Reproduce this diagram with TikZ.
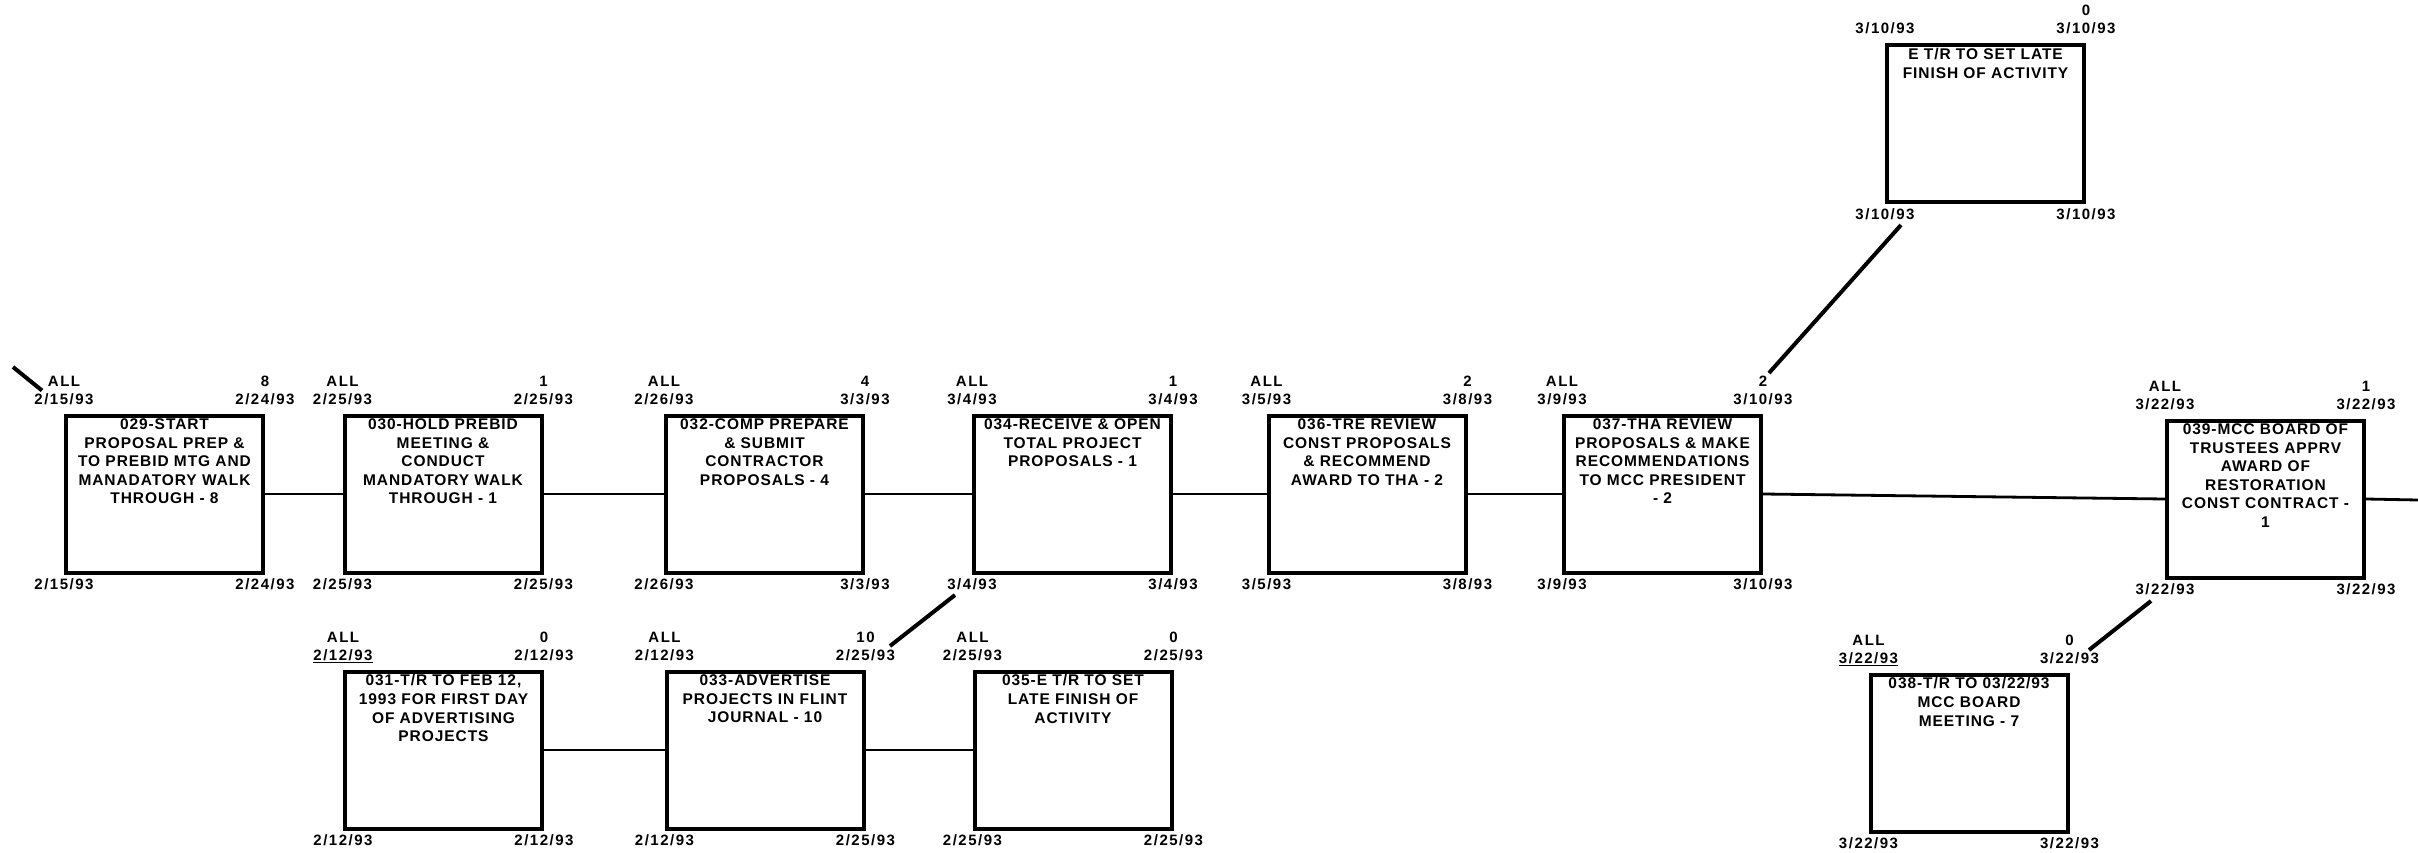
\documentclass[tikz,border=0pt]{standalone}
\usepackage{fontspec}
\setmainfont{Liberation Sans}[LetterSpace=6]
\newfontfamily\lblfont{Liberation Sans}[LetterSpace=10]
\usetikzlibrary{calc}
\tikzset{
  actbox/.style={draw, line width=4pt, minimum width=197pt, minimum height=157pt, inner sep=0pt},
  acttext/.style={anchor=north, align=center, inner sep=0pt, font=\fontsize{15.5}{18.6}\selectfont\bfseries},
  lbl/.style={anchor=base, inner sep=0pt, font=\lblfont\fontsize{15}{17}\selectfont\bfseries},
  conn/.style={line width=2.8pt},
  diag/.style={line width=4pt},
}
\newcommand\actbox[9]{%
  \node[actbox] (#1) at (#2) {};
  \node[acttext] (#1-txt) at ([yshift=-5pt]#1.north) {#3};
  \node[lbl] (#1-tla) at ([yshift=27.5pt]#1.north west) {#4};
  \node[lbl] (#1-tlb) at ([yshift=9.5pt]#1.north west) {#5};
  \node[lbl] (#1-tra) at ([yshift=27.5pt]#1.north east) {#6};
  \node[lbl] (#1-trb) at ([yshift=9.5pt]#1.north east) {#7};
  \node[lbl] (#1-bl) at ([yshift=-15pt]#1.south west) {#8};
  \node[lbl] (#1-br) at ([yshift=-15pt]#1.south east) {#9};
}
\begin{document}
\begin{tikzpicture}[x=1pt,y=-1pt]
\useasboundingbox[fill=white] (0,0) rectangle (2418,853);

\actbox{b029}{164.5,494}{029-START\\PROPOSAL PREP \&\\TO PREBID MTG AND\\MANADATORY WALK\\THROUGH - 8}{ALL}{2/15/93}{8}{2/24/93}{2/15/93}{2/24/93}
\actbox{b030}{443,494}{030-HOLD PREBID\\MEETING \&\\CONDUCT\\MANDATORY WALK\\THROUGH - 1}{ALL}{2/25/93}{1}{2/25/93}{2/25/93}{2/25/93}
\actbox{b032}{764.5,494}{032-COMP PREPARE\\\& SUBMIT\\CONTRACTOR\\PROPOSALS - 4}{ALL}{2/26/93}{4}{3/3/93}{2/26/93}{3/3/93}
\actbox{b034}{1072.5,494}{034-RECEIVE \& OPEN\\TOTAL PROJECT\\PROPOSALS - 1}{ALL}{3/4/93}{1}{3/4/93}{3/4/93}{3/4/93}
\actbox{b036}{1367,494}{036-TRE REVIEW\\CONST PROPOSALS\\\& RECOMMEND\\AWARD TO THA - 2}{ALL}{3/5/93}{2}{3/8/93}{3/5/93}{3/8/93}
\actbox{b037}{1662.5,494}{037-THA REVIEW\\PROPOSALS \& MAKE\\RECOMMENDATIONS\\TO MCC PRESIDENT\\- 2}{ALL}{3/9/93}{2}{3/10/93}{3/9/93}{3/10/93}
\actbox{b039}{2265.5,499}{039-MCC BOARD OF\\TRUSTEES APPRV\\AWARD OF\\RESTORATION\\CONST CONTRACT -\\1}{ALL}{3/22/93}{1}{3/22/93}{3/22/93}{3/22/93}
\actbox{bE}{1985.5,124}{E T/R TO SET LATE\\FINISH OF ACTIVITY}{}{3/10/93}{0}{3/10/93}{3/10/93}{3/10/93}
\actbox{b031}{443.5,750}{031-T/R TO FEB 12,\\1993 FOR FIRST DAY\\OF ADVERTISING\\PROJECTS}{ALL}{\underline{2/12/93}}{0}{2/12/93}{2/12/93}{2/12/93}
\actbox{b033}{765,750}{033-ADVERTISE\\PROJECTS IN FLINT\\JOURNAL - 10}{ALL}{2/12/93}{10}{2/25/93}{2/12/93}{2/25/93}
\actbox{b035}{1073,750}{035-E T/R TO SET\\LATE FINISH OF\\ACTIVITY}{ALL}{2/25/93}{0}{2/25/93}{2/25/93}{2/25/93}
\actbox{b038}{1969,753}{038-T/R TO 03/22/93\\MCC BOARD\\MEETING - 7}{ALL}{\underline{3/22/93}}{0}{3/22/93}{3/22/93}{3/22/93}

% horizontal connectors
\draw[conn] (b029.east) -- (b030.west);
\draw[conn] (b030.east) -- (b032.west);
\draw[conn] (b032.east) -- (b034.west);
\draw[conn] (b034.east) -- (b036.west);
\draw[conn] (b036.east) -- (b037.west);
\draw[conn] (b037.east) -- (b039.west);
\coordinate (exit039) at (2418,500);
\draw[conn] (b039.east) -- (exit039);
\draw[conn] (b031.east) -- (b033.west);
\draw[conn] (b033.east) -- (b035.west);

% diagonal connectors
\coordinate (in029) at (13,367);
\draw[diag] (in029) -- ($(b029.north west)+(-22,-23)$);
\draw[diag] ($(b034.south west)+(-17,20.5)$) -- ($(b033.north east)+(24.5,-23.5)$);
\draw[diag] ($(b039.south west)+(-14,21.5)$) -- ($(b038.north east)+(19.5,-22.5)$);
\draw[diag] ($(b037.north east)+(6,-40.5)$) -- ($(bE.south west)+(16,20.5)$);
\end{tikzpicture}
\end{document}
